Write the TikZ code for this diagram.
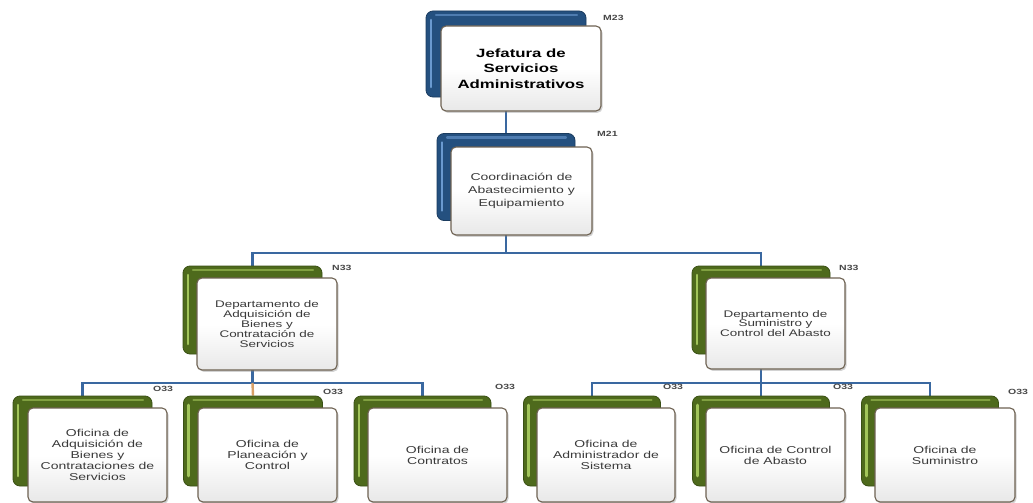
\documentclass[tikz,border=0pt]{standalone}
\usepackage{fontspec}
\setmainfont{Liberation Sans}
\newfontfamily\boxfont[FakeStretch=1.4]{Liberation Sans}
\usetikzlibrary{shadows,backgrounds,calc}
\definecolor{conncol}{HTML}{3A68A0}
\definecolor{connorange}{HTML}{D9A066}
\definecolor{bluedark}{HTML}{24507F}
\definecolor{bluelight}{HTML}{6A9AD0}
\definecolor{greendark}{HTML}{4E6A1C}
\definecolor{greenlight}{HTML}{A2C55A}
\definecolor{frameedge}{HTML}{6E6252}
\definecolor{txt}{HTML}{3A3A3A}
\tikzset{
  front/.style={draw=frameedge, line width=1.1pt, rounded corners=5pt,
    top color=white, bottom color=black!9, middle color=white,
    drop shadow={opacity=0.35,shadow xshift=1.5pt,shadow yshift=-1.8pt},
    inner sep=2pt, align=center, text=txt,
    font=\boxfont\fontsize{10}{11}\selectfont},
  backbox/.style 2 args={fill=#1, draw=#1!75!black, line width=0.8pt, rounded corners=7pt,
    path picture={
      \draw[#2, line width=2.6pt, line cap=round]
        ([shift={(5pt,10pt)}]path picture bounding box.south west) --
        ([shift={(5pt,-9pt)}]path picture bounding box.north west);
      \draw[#2!60!#1, line width=2.2pt, line cap=round]
        ([shift={(10pt,-4pt)}]path picture bounding box.north west) --
        ([shift={(-9pt,-4pt)}]path picture bounding box.north east);
    }},
  bbox/.style={backbox={bluedark}{bluelight}},
  gbox/.style={backbox={greendark}{greenlight}},
  lab/.style={font=\boxfont\bfseries\fontsize{7.5}{9}\selectfont, text=black!72, anchor=west, inner sep=0pt},
  conn/.style={draw=conncol, line width=2.4pt},
}
\begin{document}
\begin{tikzpicture}[x=1pt,y=-1pt]
\useasboundingbox (0,0) rectangle (1033,503);

% level 1
\node[bbox, minimum width=160pt, minimum height=86pt] (jb) at (506,54) {};
\node[front, minimum width=160pt, minimum height=85pt, text=black,
      font=\boxfont\bfseries\fontsize{12}{15.5}\selectfont] (jef) at (521,68.5)
      {Jefatura de\\Servicios\\Administrativos};
\node[lab] (ljef) at (603,18) {M23};

% level 2
\node[bbox, minimum width=138pt, minimum height=87pt] (cb) at (506,177) {};
\node[front, minimum width=141pt, minimum height=88pt,
      font=\boxfont\fontsize{10}{13.3}\selectfont] (coord) at (521.5,191)
      {Coordinación de\\Abastecimiento y\\Equipamiento};
\node[lab] (lcoord) at (597,134) {M21};

% level 3
\node[gbox, minimum width=139pt, minimum height=88pt] (d1b) at (252.5,310) {};
\node[front, minimum width=140pt, minimum height=92pt,
      font=\boxfont\fontsize{9.6}{9.8}\selectfont] (d1) at (267,324)
      {Departamento de\\Adquisición de\\Bienes y\\Contratación de\\Servicios};
\node[lab] (ld1) at (332,268) {N33};

\node[gbox, minimum width=138pt, minimum height=88pt] (d2b) at (761,310) {};
\node[front, minimum width=139pt, minimum height=91pt,
      font=\boxfont\fontsize{9.6}{9.8}\selectfont] (d2) at (775.5,323.5)
      {Departamento de\\Suministro y\\Control del Abasto};
\node[lab] (ld2) at (839,268) {N33};

% level 4
\node[gbox, minimum width=139pt, minimum height=90pt] (b1b) at (82.5,441) {};
\node[front, minimum width=139pt, minimum height=94pt] (b1) at (97.5,455)
      {\raisebox{6pt}{\parbox{130pt}{\centering Oficina de\\Adquisición de\\Bienes y\\Contrataciones de\\Servicios}}};
\node[lab] (lb1) at (153,389) {O33};

\node[gbox, minimum width=139pt, minimum height=90pt] (b2b) at (253,441) {};
\node[front, minimum width=139pt, minimum height=94pt] (b2) at (267.5,455)
      {Oficina de\\Planeación y\\Control};
\node[lab] (lb2) at (323,392) {O33};

\node[gbox, minimum width=137pt, minimum height=90pt] (b3b) at (422.5,441) {};
\node[front, minimum width=139pt, minimum height=94pt] (b3) at (437.5,455)
      {Oficina de\\Contratos};
\node[lab] (lb3) at (495,387) {O33};

\node[gbox, minimum width=137pt, minimum height=90pt] (b4b) at (592,441) {};
\node[front, minimum width=138pt, minimum height=94pt] (b4) at (606,455)
      {Oficina de\\Administrador de\\Sistema};
\node[lab] (lb4) at (663,387) {O33};

\node[gbox, minimum width=137pt, minimum height=90pt] (b5b) at (761,441) {};
\node[front, minimum width=139pt, minimum height=94pt] (b5) at (775.5,455)
      {Oficina de Control\\de Abasto};
\node[lab] (lb5) at (833,387) {O33};

\node[gbox, minimum width=137pt, minimum height=90pt] (b6b) at (930,441) {};
\node[front, minimum width=140pt, minimum height=94pt] (b6) at (945,455)
      {Oficina de\\Suministro};
\node[lab] (lb6) at (1008,392) {O33};

% connectors
\begin{scope}[on background layer]
  \fill[white] (0,0) rectangle (1033,503);
  \coordinate (bus1) at (506,253);
  \coordinate (bus2) at (252.5,383);
  \coordinate (bus3) at (761,383);
  \draw[conn] (jb.south) -- (cb.north);
  \draw[conn] (cb.south) -- (bus1);
  \draw[conn] (bus1) -| (d1b.north);
  \draw[conn] (bus1) -| (d2b.north);
  \draw[conn] (d1b.south) -- (bus2);
  \draw[conn] (bus2) -| (b1b.north);
  \draw[conn] (bus2) -| (b3b.north);
  \draw[conn, draw=connorange] (bus2) -- (b2b.north);
  \draw[conn] (d2b.south) -- (bus3);
  \draw[conn] (bus3) -| (b4b.north);
  \draw[conn] (bus3) -| (b6b.north);
  \draw[conn] (bus3) -- (b5b.north);
\end{scope}
\end{tikzpicture}
\end{document}
